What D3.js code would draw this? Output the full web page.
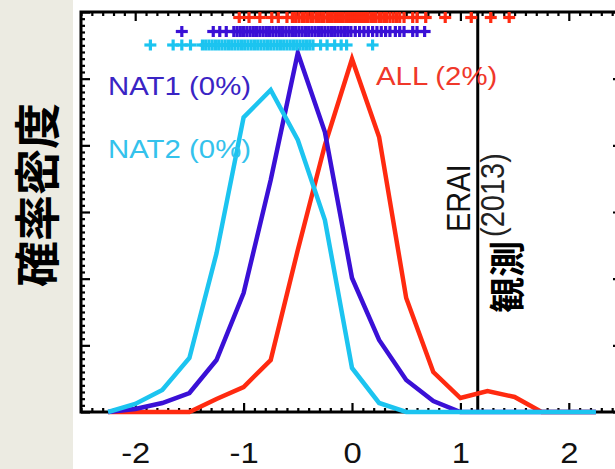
<!DOCTYPE html>
<html><head><meta charset="utf-8">
<script src="https://cdn.jsdelivr.net/npm/d3@7"></script>
<style>body{margin:0;background:#fff;} svg{display:block;}</style>
</head><body><svg id="c" width="615" height="469"></svg>
<script>
// ---- data ----
const binCenters = [-2.25,-2.0,-1.75,-1.5,-1.25,-1.0,-0.75,-0.5,-0.25,0.0,0.25,0.5,0.75,1.0,1.25,1.5,1.75,2.0,2.25];
const allPdf  = [0,0,0,0,0.0195,0.0375,0.078,0.243,0.4005,0.5295,0.4125,0.171,0.06,0.021,0.0315,0.0225,0,0,0];
const nat1Pdf = [0,0.0045,0.0135,0.0285,0.078,0.1785,0.348,0.5385,0.42,0.201,0.108,0.048,0.0165,0,0,0,0,0,0];
const nat2Pdf = [0,0.012,0.033,0.081,0.238,0.442,0.483,0.408,0.288,0.066,0.0135,0,0,0,0,0,0,0,0];
const allMembers = [-1.04,-0.95,-0.85,-0.74,-0.68,-0.60,-0.55,-0.52,-0.49,-0.46,-0.44,-0.41,-0.38,-0.36,-0.33,-0.31,-0.28,-0.26,-0.23,-0.21,-0.19,-0.16,-0.14,-0.12,-0.10,-0.08,-0.05,-0.03,-0.01,0.01,0.03,0.05,0.07,0.09,0.11,0.13,0.15,0.18,0.20,0.22,0.25,0.27,0.30,0.32,0.35,0.38,0.41,0.44,0.48,0.56,0.60,0.68,0.86,1.10,1.28,1.45];
const nat1Members = [-1.57,-1.28,-1.22,-1.16,-1.09,-1.06,-1.03,-1.00,-0.97,-0.94,-0.91,-0.88,-0.85,-0.82,-0.79,-0.76,-0.73,-0.70,-0.67,-0.64,-0.61,-0.58,-0.55,-0.52,-0.49,-0.46,-0.43,-0.40,-0.37,-0.34,-0.31,-0.28,-0.25,-0.22,-0.19,-0.16,-0.13,-0.10,-0.07,-0.04,-0.01,0.03,0.07,0.11,0.15,0.19,0.23,0.27,0.31,0.35,0.40,0.44,0.48,0.56,0.60,0.67];
const nat2Members = [-1.86,-1.65,-1.57,-1.49,-1.38,-1.35,-1.32,-1.29,-1.26,-1.23,-1.20,-1.17,-1.14,-1.11,-1.08,-1.05,-1.02,-0.99,-0.96,-0.93,-0.90,-0.87,-0.84,-0.81,-0.78,-0.75,-0.72,-0.69,-0.66,-0.63,-0.60,-0.57,-0.54,-0.51,-0.48,-0.45,-0.42,-0.39,-0.36,-0.29,-0.23,-0.16,-0.10,-0.05,0.19];
const xTickValues = [-2,-1,0,1,2];
const xTickLabels = ["-2","-1","0","1","2"];
const obsValue = 1.16;
const seriesNames = ["ALL (2%)","NAT1 (0%)","NAT2 (0%)"];
const yLabel = "確率密度";
const obsLabel = "観測";
const obsSource = "ERAI";
const obsYear = "(2013)";

// ---- layout ----
const svg = d3.select("#c");
const L = 81, R = 623, T = 12, B = 412;
const SX = 1.13;
const x = d3.scaleLinear().domain([-2.5, 2.5]).range([L, R]);
const y = d3.scaleLinear().domain([0, 0.6]).range([B, T]);
const colAll = "#ff2a10", colN1 = "#3a10d6", colN2 = "#1cc4f0";
const txtAll = "#f0382a", txtN1 = "#3a24c4", txtN2 = "#34c2ec";

svg.append("rect").attr("x",0).attr("y",0).attr("width",615).attr("height",469).attr("fill","#fff");
svg.append("rect").attr("x",0).attr("y",0).attr("width",73).attr("height",469).attr("fill","#ecebe2");

// axes (ticks inward)
function styleAxis(g){ g.select(".domain").remove(); g.selectAll("line").attr("stroke","#000").attr("stroke-width",2.2); }
const minorX = d3.range(-25, 26).map(d => d/10).filter(d => Math.abs(d - Math.round(d)) > 1e-6);
const minorY = d3.range(0, 61).map(d => d/100).filter(d => Math.abs(d*10 - Math.round(d*10)) > 1e-6);
const majorY = d3.range(0, 7).map(d => d/10);

svg.append("g").attr("transform",`translate(0,${B})`).call(d3.axisBottom(x).tickValues(minorX).tickSize(-4).tickFormat("")).call(styleAxis);
svg.append("g").attr("transform",`translate(0,${T})`).call(d3.axisTop(x).tickValues(minorX).tickSize(-4).tickFormat("")).call(styleAxis);
svg.append("g").attr("transform",`translate(0,${T})`).call(d3.axisTop(x).tickValues(xTickValues).tickSize(-9).tickFormat("")).call(styleAxis);
const bx = svg.append("g").attr("transform",`translate(0,${B})`).call(d3.axisBottom(x).tickValues(xTickValues).tickSize(-9).tickFormat((d,i)=>xTickLabels[i])).call(styleAxis);
bx.selectAll("text").attr("y",0).attr("dy",0)
  .attr("transform",`translate(0,51) scale(${SX},1)`)
  .attr("font-family","'Liberation Sans', Arial, sans-serif").attr("font-size",29).attr("fill","#111");

svg.append("g").attr("transform",`translate(${L},0)`).call(d3.axisLeft(y).tickValues(minorY).tickSize(-4).tickFormat("")).call(styleAxis);
svg.append("g").attr("transform",`translate(${L},0)`).call(d3.axisLeft(y).tickValues(majorY).tickSize(-9).tickFormat("")).call(styleAxis);
svg.append("g").attr("transform",`translate(${R},0)`).call(d3.axisRight(y).tickValues(minorY).tickSize(-4).tickFormat("")).call(styleAxis);
svg.append("g").attr("transform",`translate(${R},0)`).call(d3.axisRight(y).tickValues(majorY).tickSize(-10).tickFormat("")).call(styleAxis);

// frame
svg.append("rect").attr("x",L).attr("y",T).attr("width",R-L).attr("height",B-T)
  .attr("fill","none").attr("stroke","#000").attr("stroke-width",3);

// observation line
svg.append("line").attr("x1",x(obsValue)).attr("x2",x(obsValue)).attr("y1",T).attr("y2",B)
  .attr("stroke","#000").attr("stroke-width",3);

// pdf lines
const line = d3.line().x((d,i)=>x(binCenters[i])).y(d=>y(d));
[[allPdf,colAll],[nat1Pdf,colN1],[nat2Pdf,colN2]].forEach(([data,c])=>{
  svg.append("path").datum(data).attr("d",line).attr("fill","none")
    .attr("stroke",c).attr("stroke-width",4.5).attr("stroke-linejoin","miter");
});

// member markers
function plus(vals, yy, c){
  const g = svg.append("g").attr("stroke",c).attr("stroke-width",3.2);
  vals.forEach(v=>{
    g.append("line").attr("x1",x(v)-6).attr("x2",x(v)+6).attr("y1",yy).attr("y2",yy);
    g.append("line").attr("x1",x(v)).attr("x2",x(v)).attr("y1",yy-5.5).attr("y2",yy+5.5);
  });
}
plus(allMembers, 17.5, colAll);
plus(nat1Members, 31.5, colN1);
plus(nat2Members, 45, colN2);

// labels
function stext(tx, ty, str, opts){
  const g = svg.append("g").attr("transform",`translate(${tx},${ty}) scale(${opts.sx||SX},1)${opts.rot?" rotate(-90)":""}`);
  const t = g.append("text").text(str)
    .attr("font-family", opts.ff || "'Liberation Sans', Arial, sans-serif")
    .attr("font-size", opts.fs).attr("fill", opts.fill || "#000")
    .attr("font-weight", opts.fw || "normal")
    .attr("text-anchor", opts.anchor || "start");
  if (opts.central) t.attr("dominant-baseline","central");
  return t;
}
stext(108, 95, seriesNames[1], {fs:26, fill:txtN1});
stext(108, 158, seriesNames[2], {fs:26, fill:txtN2});
stext(376, 85, seriesNames[0], {fs:26, fill:txtAll});
stext(470, 232, obsSource, {fs:29, rot:true, fill:"#111"});
stext(504, 237, obsYear, {fs:29, rot:true, fill:"#222"});
stext(505, 277, obsLabel, {fs:36, rot:true, central:true, anchor:"middle", fw:"bold", sx:1.0, ff:"'Noto Sans CJK JP', sans-serif"});
stext(34, 195, yLabel, {fs:46, rot:true, central:true, anchor:"middle", fw:"bold", sx:1.0, ff:"'Noto Sans CJK JP', sans-serif"});
</script></body></html>
